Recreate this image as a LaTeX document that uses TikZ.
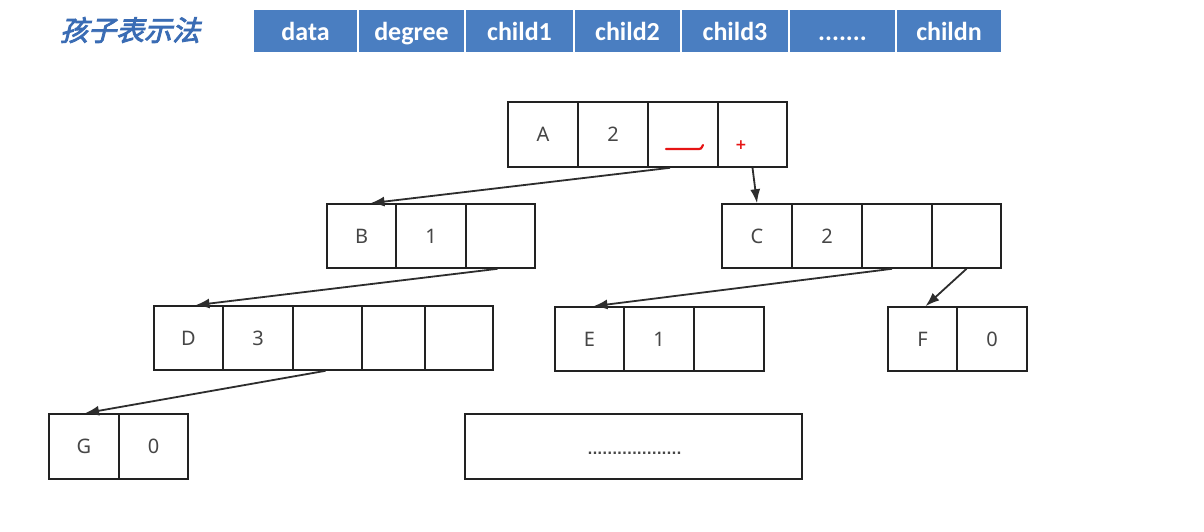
\documentclass[tikz,border=0pt]{standalone}
\usepackage{fontspec}
\setmainfont{Noto Sans}
\newfontfamily\hdr{Carlito}
\newfontfamily\cjk[FakeSlant=0.25,FakeBold=3]{Noto Sans CJK SC}
\newfontfamily\djv{DejaVu Sans}
\usetikzlibrary{arrows.meta}
\definecolor{hblue}{RGB}{74,126,193}
\definecolor{tblue}{RGB}{58,108,180}
\definecolor{cellline}{RGB}{34,34,34}
\definecolor{celltext}{RGB}{70,70,70}
\definecolor{arr}{RGB}{45,45,45}
\definecolor{redmark}{RGB}{230,20,20}
\tikzset{
  hcell/.style={fill=hblue, draw=white, line width=1.5pt, minimum height=44pt, inner sep=0pt,
    text=white, text height=21pt, text depth=2pt, font=\hdr\bfseries\fontsize{26}{28}\selectfont},
  cell/.style={draw=cellline, line width=1.6pt, minimum height=64pt, inner sep=0pt,
    text=celltext, font=\fontsize{20}{22}\selectfont},
  link/.style={draw=arr, line width=1.8pt, -{Latex[length=14pt,width=10pt]}}
}
\begin{document}
\begin{tikzpicture}[x=1pt,y=-1pt]
\useasboundingbox[fill=white] (0,0) rectangle (1204,531);
% title
\node[text=tblue, font=\cjk\fontsize{28}{30}\selectfont] (title) at (130,30) {孩子表示法};
% header
\node[hcell, minimum width=105pt] (h1) at (305.5,31) {data};
\node[hcell, minimum width=107pt] (h2) at (411.5,31) {degree};
\node[hcell, minimum width=109pt] (h3) at (519.5,31) {child1};
\node[hcell, minimum width=107pt] (h4) at (627.5,31) {child2};
\node[hcell, minimum width=108pt] (h5) at (735,31) {child3};
\node[hcell, minimum width=107pt] (h6) at (842.5,31) {.......};
\node[hcell, minimum width=106pt] (h7) at (949,31) {childn};
% row A
\node[cell, minimum width=70pt, minimum height=65pt] (A1) at (543,134.5) {A};
\node[cell, minimum width=70pt, minimum height=65pt] (A2) at (613,134.5) {2};
\node[cell, minimum width=70pt, minimum height=65pt] (A3) at (683,134.5) {};
\node[cell, minimum width=69pt, minimum height=65pt] (A4) at (752.5,134.5) {};
\draw[redmark, line width=2.2pt, line cap=round] (666,149) -- (697,149) .. controls (701,149) .. (703,145);
\node[text=redmark, font=\djv\bfseries\fontsize{14}{16}\selectfont, inner sep=0pt] (plus) at (741,145) {+};
% row B
\node[cell, minimum width=69pt] (B1) at (361.5,236) {B};
\node[cell, minimum width=70pt] (B2) at (431,236) {1};
\node[cell, minimum width=69pt] (B3) at (500.5,236) {};
% row C
\node[cell, minimum width=70pt] (C1) at (757,236) {C};
\node[cell, minimum width=70pt] (C2) at (827,236) {2};
\node[cell, minimum width=70pt] (C3) at (897,236) {};
\node[cell, minimum width=69pt] (C4) at (966.5,236) {};
% row D
\node[cell, minimum width=69pt] (D1) at (188.5,338) {D};
\node[cell, minimum width=70pt] (D2) at (258,338) {3};
\node[cell, minimum width=69pt] (D3) at (327.5,338) {};
\node[cell, minimum width=63pt] (D4) at (393.5,338) {};
\node[cell, minimum width=68pt] (D5) at (459,338) {};
% row E
\node[cell, minimum width=69pt] (E1) at (589.5,339) {E};
\node[cell, minimum width=70pt] (E2) at (659,339) {1};
\node[cell, minimum width=70pt] (E3) at (729,339) {};
% row F
\node[cell, minimum width=69pt] (F1) at (922.5,339) {F};
\node[cell, minimum width=70pt] (F2) at (992,339) {0};
% row G
\node[cell, minimum width=70pt, minimum height=65pt] (G1) at (84,446.5) {G};
\node[cell, minimum width=69pt, minimum height=65pt] (G2) at (153.5,446.5) {0};
% dots box
\node[cell, minimum width=337pt, minimum height=65pt] (dots) at (633.5,446.5) {};
\node[text=celltext, font=\djv\bfseries\fontsize{13}{16}\selectfont, inner sep=0pt, anchor=base] (dotstext) at (634.5,454) {...................};
% links
\draw[link] ([xshift=-13pt]A3.south) -- ([xshift=9pt]B1.north);
\draw[link] (A4.south) -- (C1.north);
\draw[link] ([xshift=-3pt]B3.south) -- ([xshift=7pt]D1.north);
\draw[link] ([xshift=-5pt]C3.south) -- ([xshift=4pt]E1.north);
\draw[link] (C4.south) -- ([xshift=3pt]F1.north);
\draw[link] ([xshift=-2pt]D3.south) -- ([xshift=1pt]G1.north);
\end{tikzpicture}
\end{document}
